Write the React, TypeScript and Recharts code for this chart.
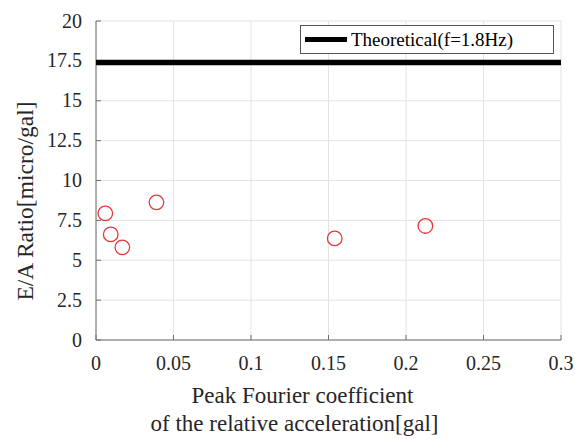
import { ScatterChart, Scatter, XAxis, YAxis, CartesianGrid } from 'recharts';

const peakCoef = [0.006, 0.0095, 0.017, 0.039, 0.154, 0.2125];
const eaRatio = [7.94, 6.62, 5.81, 8.63, 6.37, 7.15];
const theoreticalValue = 17.4;
const theoreticalLabel = 'Theoretical(f=1.8Hz)';
const xTicks = [0, 0.05, 0.1, 0.15, 0.2, 0.25, 0.3];
const yTicks = [0, 2.5, 5, 7.5, 10, 12.5, 15, 17.5, 20];

const FONT = '"Liberation Serif", "Times New Roman", serif';
const TEXT = '#262626';
const AXIS = '#6e6e6e';

const points = peakCoef.map((x, i) => ({ x, y: eaRatio[i] }));
const theoretical = [
  { x: xTicks[0], y: theoreticalValue },
  { x: xTicks[xTicks.length - 1], y: theoreticalValue },
];

const RedCircle = (props: any) => (
  <circle cx={props.cx} cy={props.cy} r={7.3} fill="none" stroke="#e8383a" strokeWidth={1.3} />
);

const NoPoint = () => <g />;

const XTick = (props: any) => (
  <text x={props.x} y={props.y} dy={14} textAnchor="middle" fontFamily={FONT} fontSize={20} fill={TEXT}>
    {props.payload.value}
  </text>
);

const YTick = (props: any) => (
  <text x={props.x} y={props.y} dy={6.5} textAnchor="end" fontFamily={FONT} fontSize={20} fill={TEXT}>
    {props.payload.value}
  </text>
);

const LegendBox = () => (
  <div
    style={{
      position: 'absolute',
      left: 300,
      top: 25,
      width: 252,
      height: 27,
      border: '1px solid #555',
      background: '#fff',
      display: 'flex',
      alignItems: 'center',
      fontFamily: FONT,
      fontSize: 19,
      color: '#000',
    }}
  >
    <span style={{ display: 'inline-block', width: 42, height: 5, background: '#000', marginLeft: 4, marginRight: 4 }} />
    <span>{theoreticalLabel}</span>
  </div>
);

const XLabel = (props: any) => {
  const vb = props.viewBox;
  const cx = vb.x + vb.width / 2 - 30;
  return (
    <text textAnchor="middle" fontFamily={FONT} fontSize={23} fill={TEXT}>
      <tspan x={cx + 4} y={403}>Peak Fourier coefficient</tspan>
      <tspan x={cx - 4} y={431}>of the relative acceleration[gal]</tspan>
    </text>
  );
};

const YLabel = () => (
  <text
    x={0}
    y={0}
    transform="translate(33, 201) rotate(-90)"
    textAnchor="middle"
    fontFamily={FONT}
    fontSize={23.5}
    fill={TEXT}
  >
    E/A Ratio[micro/gal]
  </text>
);

export default function App() {
  return (
    <div style={{ position: 'absolute', left: 0, top: 0, width: 575, height: 439, background: '#fff', fontFamily: FONT }}>
      <ScatterChart width={575} height={439} margin={{ top: 21, right: 14, bottom: 0, left: 0 }}>
        <CartesianGrid stroke="#e3e3e3" />
        <XAxis
          type="number"
          dataKey="x"
          domain={[0, 0.3]}
          ticks={xTicks}
          allowDataOverflow
          height={99}
          stroke={AXIS}
          tickSize={-5}
          tickMargin={21}
          tick={<XTick />}
          label={<XLabel />}
        />
        <XAxis
          xAxisId="top"
          type="number"
          dataKey="x"
          orientation="top"
          domain={[0, 0.3]}
          ticks={xTicks}
          height={0}
          stroke={AXIS}
          tickSize={-5}
          tick={false}
        />
        <YAxis
          type="number"
          dataKey="y"
          domain={[0, 20]}
          ticks={yTicks}
          allowDataOverflow
          width={96}
          stroke={AXIS}
          tickSize={-5}
          tickMargin={19}
          tick={<YTick />}
          label={<YLabel />}
        />
        <YAxis
          yAxisId="right"
          type="number"
          dataKey="y"
          orientation="right"
          domain={[0, 20]}
          ticks={yTicks}
          width={0}
          stroke={AXIS}
          tickSize={-5}
          tick={false}
        />
        <Scatter
          name={theoreticalLabel}
          data={theoretical}
          line={{ stroke: '#000', strokeWidth: 5.5 }}
          shape={NoPoint}
          isAnimationActive={false}
        />
        <Scatter name="data" data={points} shape={RedCircle} isAnimationActive={false} />
      </ScatterChart>
      <LegendBox />
    </div>
  );
}
